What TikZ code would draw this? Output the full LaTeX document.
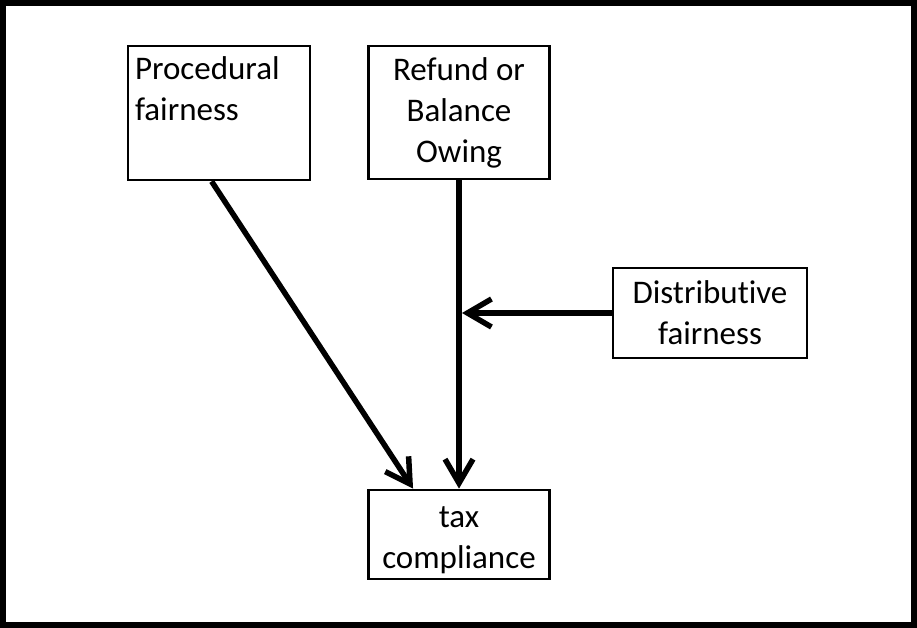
\documentclass[tikz,border=0pt]{standalone}
\usepackage{fontspec}
\setmainfont[Ligatures={NoCommon,NoContextual}]{Carlito}
\usetikzlibrary{arrows.meta,calc}

\begin{document}
\begin{tikzpicture}[x=1pt,y=-1pt,
  box/.style={draw=black,line width=2.8pt,minimum width=181pt,inner sep=0pt,
    align=center,font=\fontsize{33}{41}\selectfont},
  link/.style={line width=5.5pt,-{Straight Barb[length=24pt,width=28pt,line width=5.5pt]}}]
  \useasboundingbox (0,0) rectangle (917,628);
  \draw[line width=6pt] (3,3) rectangle (914,625);
  % the four boxes
  \node[box,align=left,minimum width=182pt,minimum height=134pt] (proc) at (219,113)
    {\parbox[t][134pt][t]{168pt}{\vspace*{11pt}Procedural\\fairness}};
  \node[box,minimum height=133pt] (ref) at (459,112.5) {Refund or\\Balance\\Owing};
  \node[box,minimum width=194pt,minimum height=90pt] (dist) at (710,313) {Distributive\\fairness};
  \node[box,minimum height=89pt] (tax) at (459,534.5) {\rule{0pt}{32pt}tax\\compliance};
  % arrows
  \draw[link] ($(proc.south west)!0.46!(proc.south east)$) -- ($(tax.north west)!0.25!(tax.north east)$);
  \draw[link] (ref.south) -- (tax.north);
  \draw[link] (dist.west) -- ([xshift=3pt]dist.west -| ref.south);
\end{tikzpicture}
\end{document}
